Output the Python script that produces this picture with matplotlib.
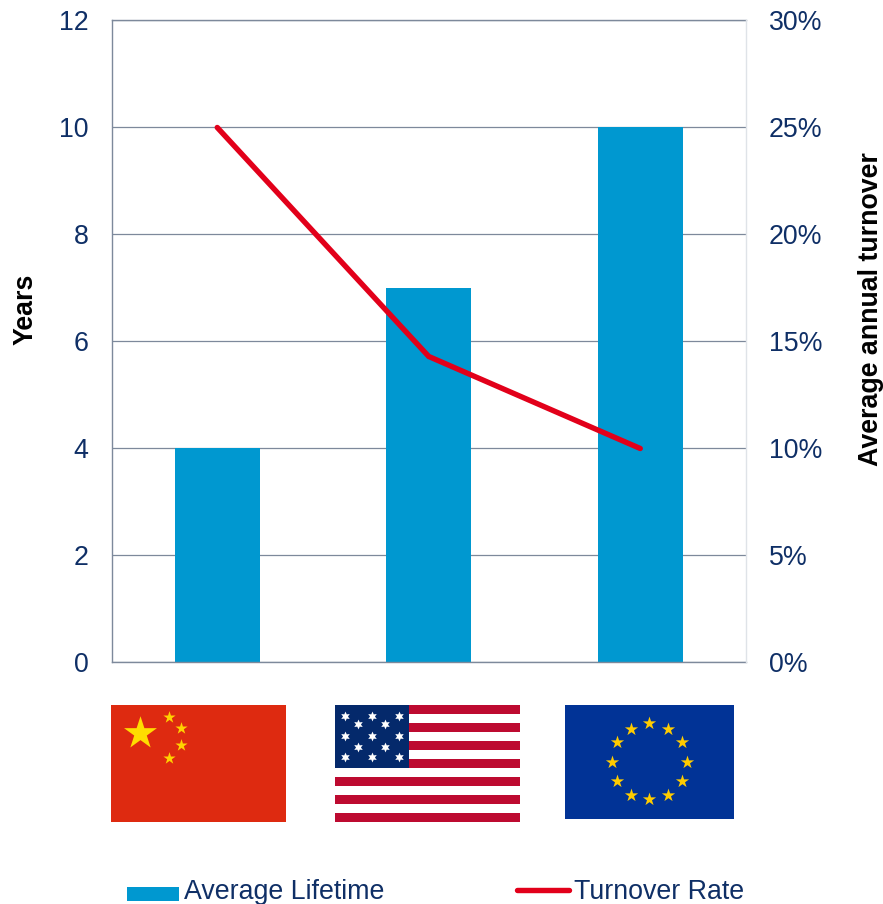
import matplotlib
matplotlib.use('Agg')
import matplotlib.pyplot as plt
from matplotlib.legend_handler import HandlerPatch
from matplotlib.lines import Line2D
from matplotlib.patches import Patch, Rectangle
from matplotlib.transforms import ScaledTranslation

plt.rcParams['font.family'] = ['Liberation Sans', 'DejaVu Sans']

W, H = 883, 904
navy = '#0f2f66'
grid_c = '#7d899b'
blue = '#0098d0'
red = '#e2001a'

regions = ['China', 'USA', 'EU']
lifetime = [4, 7, 10]
turnover = [0.25, 0.143, 0.10]
left_ticks = [0, 2, 4, 6, 8, 10, 12]
right_ticks = [0, 0.05, 0.10, 0.15, 0.20, 0.25, 0.30]

# flag details, in pixels from the top left corner of each flag
cn_stars = [(58, 12), (70, 23), (70, 40), (58, 53)]
us_stars = [(10, 11), (37, 11), (64, 11), (23, 19), (50, 19),
            (10, 31), (37, 31), (64, 31), (23, 42), (50, 42),
            (10, 52), (37, 52), (64, 52)]
eu_stars = [(84.3, 18.3), (103.3, 23.7), (117, 37.3), (122, 56.7),
            (117, 75.7), (103.3, 89.7), (84.3, 94.3), (65.7, 89.7),
            (52, 75.7), (46.7, 56.7), (52, 37.3), (65.7, 23.7)]


def px_axes(x0, y0, x1, y1, **kw):
    return fig.add_axes([x0/W, 1 - y1/H, (x1-x0)/W, (y1-y0)/H], **kw)


def low_patch(legend, orig_handle, xdescent, ydescent, width, height, fontsize):
    # legend box sits a little below the text in the reference
    return Rectangle((-xdescent, -ydescent - 3), width, height - 1)


fig = plt.figure(figsize=((W+0.01)/100, (H+0.01)/100), dpi=100)
ax = px_axes(111.5, 20.5, 746, 662.5)

ax.bar(regions, lifetime, width=0.4, color=blue, zorder=2)
ax.set_xlim(-0.5, 2.5)
ax.set_ylim(0, 12)
ax.set_yticks(left_ticks)
ax.yaxis.grid(True, color=grid_c, lw=0.9, zorder=1)
ax.set_axisbelow(True)
ax.tick_params(axis='y', length=0, pad=16.5, labelsize=19.3, labelcolor=navy)
ax.tick_params(axis='x', length=0, labelbottom=False)
for s in ['left', 'top', 'bottom']:
    ax.spines[s].set_color(grid_c)
    ax.spines[s].set_linewidth(1.0)
ax.spines['right'].set_visible(False)

ax2 = ax.twinx()
ax2.plot(regions, turnover, color=red, lw=3.9, solid_capstyle='round', solid_joinstyle='miter', zorder=5)
ax2.set_ylim(0, 0.30)
ax2.set_yticks(right_ticks)
ax2.set_yticklabels([f'{int(round(t*100))}%' for t in right_ticks])
ax2.tick_params(axis='y', length=0, pad=16.5, labelsize=19.3, labelcolor=navy)
for s in ['left', 'top', 'bottom']:
    ax2.spines[s].set_visible(False)
ax2.spines['right'].set_color('#dfe3e8')
ax2.spines['right'].set_linewidth(1.0)

# tick labels sit 1px higher in the reference
up = ScaledTranslation(0, 1/100, fig.dpi_scale_trans)
for lab in ax.get_yticklabels() + ax2.get_yticklabels():
    lab.set_transform(lab.get_transform() + up)

fig.text(26/W, 1 - 309/H, 'Years', rotation=90, ha='center', va='center',
         fontsize=19.3, fontweight='bold', color='black')
fig.text(871/W, 1 - 309/H, 'Average annual turnover', rotation=90, ha='center', va='center',
         fontsize=19.3, fontweight='bold', color='black')

# China
f = px_axes(111, 705, 286, 822)
f.set_xlim(0, 175)
f.set_ylim(117, 0)
f.axis('off')
f.add_patch(Rectangle((0, 0), 175, 117, color='#de2a10', lw=0, zorder=0))
f.scatter([29], [28], marker='*', s=620, color='#ffdd00', linewidths=0, zorder=2)
f.scatter(*zip(*cn_stars), marker='*', s=85, color='#ffd200', linewidths=0, zorder=2)

# USA
f = px_axes(335, 705, 520, 822)
f.set_xlim(0, 185)
f.set_ylim(117, 0)
f.axis('off')
for i in range(0, 13, 2):
    f.add_patch(Rectangle((0, i*9), 185, 9, color='#bd0a30', lw=0, zorder=1))
f.add_patch(Rectangle((0, 0), 74, 63, color='#04296b', lw=0, zorder=2))
f.scatter(*zip(*us_stars), marker=(6, 1, 0), s=50, color='white', linewidths=0, zorder=3)

# EU
f = px_axes(565, 705, 734, 819)
f.set_xlim(0, 169)
f.set_ylim(114, 0)
f.axis('off')
f.add_patch(Rectangle((0, 0), 169, 114, color='#013396', lw=0, zorder=1))
f.scatter(*zip(*eu_stars), marker='*', s=100, color='#ffcc00', linewidths=0, zorder=2)

handles = [Patch(color=blue, lw=0), Line2D([], [], color=red, lw=3.9, solid_capstyle='round')]
fig.legend(handles, ['Average Lifetime', 'Turnover Rate'], ncol=2, frameon=False,
           loc='lower left', bbox_to_anchor=(127/W, -0.5/H), borderpad=0, borderaxespad=0,
           fontsize=19.3, labelcolor=navy, handlelength=1.94, handleheight=0.52,
           handletextpad=0.19, columnspacing=4.93,
           handler_map={Patch: HandlerPatch(patch_func=low_patch)})

fig.savefig('out.png', dpi=100)
